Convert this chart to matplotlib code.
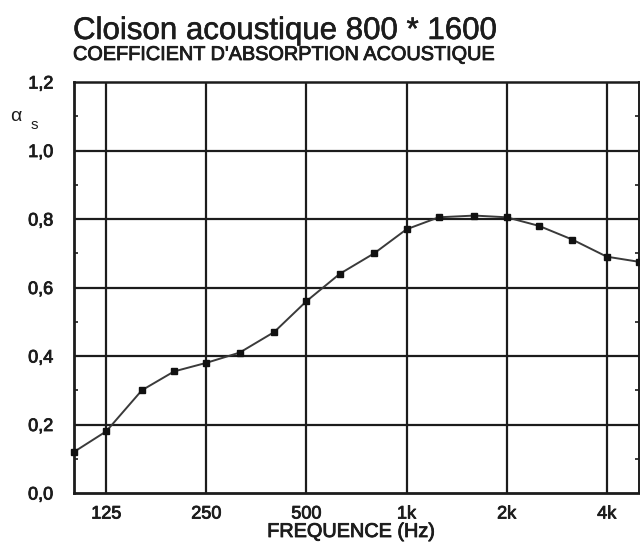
import matplotlib
matplotlib.use("Agg")
import matplotlib.pyplot as plt
import matplotlib.patheffects as pe
from matplotlib.ticker import FixedLocator, NullFormatter, NullLocator

freqs = [100, 125, 160, 200, 250, 315, 400, 500, 630, 800,
         1000, 1250, 1600, 2000, 2500, 3150, 4000, 5000]
alpha = [0.12, 0.18, 0.30, 0.355, 0.38, 0.41, 0.47, 0.56, 0.64, 0.70,
         0.77, 0.805, 0.81, 0.805, 0.78, 0.74, 0.69, 0.675]
xtick_vals = [125, 250, 500, 1000, 2000, 4000]
xtick_labels = ["125", "250", "500", "1k", "2k", "4k"]
ytick_vals = [0.0, 0.2, 0.4, 0.6, 0.8, 1.0, 1.2]
ytick_labels = ["0,0", "0,2", "0,4", "0,6", "0,8", "1,0", "1,2"]

title = "Cloison acoustique 800 * 1600"
subtitle = "COEFFICIENT D'ABSORPTION ACOUSTIQUE"
xlabel = "FREQUENCE (Hz)"

plt.rcParams['font.family'] = ['Liberation Sans', 'DejaVu Sans']
ink = '#1c1c1c'
thick = [pe.withStroke(linewidth=0.6, foreground=ink)]

W, H = 640, 542
fig = plt.figure(figsize=(W / 100, H / 100), dpi=100)
fig.patch.set_facecolor('white')

x0, x1, ytop, ybot = 74, 639, 82, 493
ax = fig.add_axes([x0 / W, 1 - ybot / H, (x1 - x0) / W, (ybot - ytop) / H])
ax.set_xscale('log')
ax.set_xlim(100, 5000)
ax.set_ylim(0, 1.2)

ax.xaxis.set_major_locator(FixedLocator(xtick_vals))
ax.xaxis.set_minor_locator(NullLocator())
ax.xaxis.set_minor_formatter(NullFormatter())
ax.set_xticks(xtick_vals)
ax.set_xticklabels(xtick_labels)
ax.set_yticks(ytick_vals)
ax.set_yticklabels(ytick_labels)
ax.set_yticks([0.1, 0.3, 0.5, 0.7, 0.9, 1.1], minor=True)

ax.tick_params(axis='both', which='major', length=0, labelsize=13, colors=ink)
ax.tick_params(axis='x', which='major', pad=9)
ax.tick_params(axis='y', which='major', pad=15)
ax.tick_params(axis='y', which='minor', direction='in', length=3, width=1.2,
               left=True, right=True, color=ink)
for lab in ax.get_xticklabels() + ax.get_yticklabels():
    lab.set_path_effects(thick)

for yv in ytick_vals[1:-1]:
    ax.axhline(yv, color=ink, lw=1.6, zorder=1)
for xv in xtick_vals:
    ax.axvline(xv, color=ink, lw=1.6, zorder=1)

for side, lw in [('left', 2.0), ('bottom', 2.0), ('top', 1.8), ('right', 1.4)]:
    ax.spines[side].set_linewidth(lw)
    ax.spines[side].set_color(ink)

ax.plot(freqs, alpha, color='#3a3a3a', lw=1.4, zorder=3, clip_on=False)
ax.plot(freqs, alpha, ls='none', marker='s', ms=4.4, color='#111111',
        zorder=4, clip_on=False)

fig.text(73 / W, 1 - 39 / H, title, fontsize=22.5, color=ink, ha='left',
         va='baseline', path_effects=[pe.withStroke(linewidth=0.4, foreground=ink)])
fig.text(73 / W, 1 - 60 / H, subtitle, fontsize=14.3, color=ink, ha='left',
         va='baseline', path_effects=thick)
fig.text(351 / W, 1 - 537 / H, xlabel, fontsize=14.3, color=ink, ha='center',
         va='baseline', path_effects=thick)
fig.text(10 / W, 1 - 121 / H, "α", fontsize=14, color=ink, ha='left',
         va='baseline')
fig.text(31 / W, 1 - 129 / H, "s", fontsize=11, color=ink, ha='left',
         va='baseline')

fig.savefig('out.png', dpi=100, facecolor='white')
